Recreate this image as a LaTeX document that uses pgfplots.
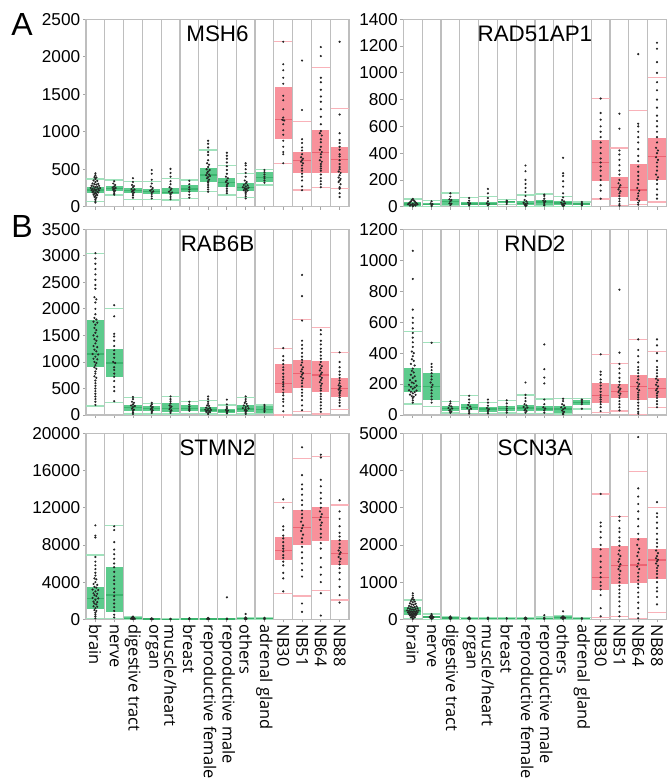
\documentclass[border=0pt]{standalone}
\usepackage{pgfplots}
\pgfplotsset{compat=1.18}
\usepackage{pgfplotstable}
\usepackage{fontspec}
\setmainfont{Liberation Sans}
\newfontfamily\labfont{Open Sans}

\definecolor{boxG}{RGB}{92,203,140}
\definecolor{boxR}{RGB}{248,145,155}
\definecolor{whiskG}{RGB}{160,226,188}
\definecolor{whiskR}{RGB}{249,178,185}
\definecolor{medG}{RGB}{60,180,110}
\definecolor{medR}{RGB}{235,100,115}
\definecolor{sep}{RGB}{190,190,190}

% box statistics: x, lower whisker, q1, median, q3, upper whisker
\pgfplotstableread{
x lw q1 med q3 uw
0.5 67 178 222 267 369
1.5 156 213 245 276 356
2.5 98 178 213 245 334
3.5 98 169 200 236 334
4.5 89 165 187 245 378
5.5 111 191 236 289 356
6.5 200 334 423 511 756
7.5 156 267 320 378 551
8.5 120 213 258 311 445
9.5 289 329 391 458 498
10.5 578 899 1166 1601 2202
11.5 222 454 614 734 1134
12.5 258 454 721 1023 1855
13.5 245 454 632 801 1312
}\tabMSH

\pgfplotstableread{
x lw q1 med q3 uw
0.5 0 8 20 32 58
1.5 2 10 18 25 45
2.5 8 15 38 58 103
3.5 2 10 20 32 70
4.5 2 10 20 38 75
5.5 15 28 38 45 52
6.5 2 10 25 40 88
7.5 5 15 35 50 95
8.5 2 12 28 40 75
9.5 2 10 20 30 35
10.5 58 195 333 495 808
11.5 8 70 145 220 438
12.5 15 45 125 320 720
13.5 35 203 378 515 965
}\tabRAD

\pgfplotstableread{
x lw q1 med q3 uw
0.5 170 911 1150 1791 3048
1.5 239 723 980 1238 2011
2.5 19 75 138 188 327
3.5 19 69 119 170 220
4.5 19 63 119 220 346
5.5 30 69 119 188 251
6.5 19 50 94 157 270
7.5 13 44 75 113 188
8.5 19 57 113 195 327
9.5 30 44 107 176 188
10.5 0 408 597 955 1257
11.5 63 503 785 1037 1803
12.5 19 440 754 1024 1653
13.5 107 346 503 691 1175
}\tabRAB

\pgfplotstableread{
x lw q1 med q3 uw
0.5 71 146 185 306 542
1.5 56 99 185 274 467
2.5 13 26 43 60 88
3.5 10 30 49 71 124
4.5 8 21 39 54 81
5.5 13 26 43 60 92
6.5 10 26 45 64 129
7.5 10 26 39 56 103
8.5 6 13 39 60 107
9.5 39 64 81 96 107
10.5 17 75 124 206 392
11.5 26 107 150 199 334
12.5 2 96 182 257 489
13.5 49 107 171 236 409
}\tabRND

\pgfplotstableread{
x lw q1 med q3 uw
0.5 107 1075 2258 3441 6917
1.5 107 824 2616 5663 10071
2.5 0 36 107 215 287
3.5 0 0 30 70 100
4.5 0 0 15 30 50
5.5 0 0 30 60 100
6.5 0 0 40 80 120
7.5 0 0 25 50 80
8.5 0 0 50 100 150
9.5 0 0 80 150 200
10.5 2760 6380 7383 8889 12544
11.5 2509 7992 9892 11755 17311
12.5 3082 8458 10967 12114 17526
13.5 2079 5842 7096 8530 12293
}\tabSTM

\pgfplotstableread{
x lw q1 med q3 uw
0.5 27 116 224 340 520
1.5 5 27 63 99 143
2.5 2 18 36 54 81
3.5 2 10 20 35 55
4.5 2 8 18 30 50
5.5 2 5 12 25 35
6.5 2 8 18 30 50
7.5 2 8 18 30 60
8.5 2 18 45 90 110
9.5 2 8 15 25 40
10.5 54 788 1129 1908 3369
11.5 72 950 1443 1980 2760
12.5 18 986 1460 2195 3969
13.5 179 1075 1595 1882 3002
}\tabSCN

\newcommand{\drawstats}[1]{%
  \addplot[draw=none, no markers, restrict x to domain=0:10,
    error bars/.cd, y dir=both, y explicit, error mark=none,
    error bar style={draw=boxG, line width=8.6pt, line cap=butt}]
    table[x=x, y expr={(\thisrow{q1}+\thisrow{q3})/2}, y error expr={(\thisrow{q3}-\thisrow{q1})/2}] {#1};
  \addplot[draw=none, no markers, restrict x to domain=10:14,
    error bars/.cd, y dir=both, y explicit, error mark=none,
    error bar style={draw=boxR, line width=8.6pt, line cap=butt}]
    table[x=x, y expr={(\thisrow{q1}+\thisrow{q3})/2}, y error expr={(\thisrow{q3}-\thisrow{q1})/2}] {#1};
  \addplot[only marks, mark=-, mark size=4.5pt, mark options={draw=whiskG, line width=0.6pt}, restrict x to domain=0:10] table[x=x, y=lw] {#1};
  \addplot[only marks, mark=-, mark size=4.5pt, mark options={draw=whiskG, line width=0.6pt}, restrict x to domain=0:10] table[x=x, y=uw] {#1};
  \addplot[only marks, mark=-, mark size=4.5pt, mark options={draw=whiskR, line width=0.6pt}, restrict x to domain=10:14] table[x=x, y=lw] {#1};
  \addplot[only marks, mark=-, mark size=4.5pt, mark options={draw=whiskR, line width=0.6pt}, restrict x to domain=10:14] table[x=x, y=uw] {#1};
  \addplot[only marks, mark=-, mark size=4.3pt, mark options={draw=medG, line width=0.6pt}, restrict x to domain=0:10] table[x=x, y=med] {#1};
  \addplot[only marks, mark=-, mark size=4.3pt, mark options={draw=medR, line width=0.6pt}, restrict x to domain=10:14] table[x=x, y=med] {#1};
}

\newcommand{\paneltitle}[1]{\node[anchor=base, inner sep=0pt, font=\fontsize{11.2}{13}\selectfont] at ([yshift=-11.2pt]axis description cs:0.5,1) {#1};}

\pgfplotsset{
  panel/.style={
    scale only axis, width=131.5pt, anchor=north west,
    xmin=0, xmax=14, ymin=0,
    axis line style={draw=sep, line width=0.6pt},
    xtick={0.5,1.5,...,13.5}, xticklabels={},
    minor xtick={1,2,...,13}, xminorgrids=true,
    minor grid style={draw=sep, line width=0.6pt},
    minor tick length=0pt,
    major tick length=1.5pt, tick align=outside,
    tick style={draw=gray!70, line width=0.4pt},
    xtick pos=bottom, ytick pos=left,
    scaled ticks=false,
    /pgf/number format/1000 sep={},
    /pgf/number format/assume math mode=true,
    yticklabel style={font=\fontsize{8.6}{10}\selectfont, inner sep=1.2pt},
  },
  bottomlabels/.style={
    xticklabels={brain, nerve, digestive tract, organ, muscle/heart, breast, reproductive female, reproductive male, others, adrenal gland, NB30, NB51, NB64, NB88},
    xticklabel style={rotate=-90, anchor=west, inner sep=1pt, font=\labfont\fontsize{8.2}{10}\selectfont},
  },
  dots/.style={only marks, mark=*, mark size=0.32pt, black!85},
}

\begin{document}
\begin{tikzpicture}
\useasboundingbox (0,0) rectangle (333pt,-391pt);

\node[anchor=base west, inner sep=0pt, font=\fontsize{16}{18}\selectfont] at (5.5pt,-17.5pt) {A};
\node[anchor=base west, inner sep=0pt, font=\fontsize{16}{18}\selectfont] at (5.5pt,-118.5pt) {B};

% ---------- MSH6 ----------
\begin{axis}[panel, at={(43pt,-9.65pt)}, height=93.7pt, ymax=2500, ytick={0,500,...,2500}]
\drawstats{\tabMSH}
\addplot[dots] coordinates {
(0.5,445)(0.5,420)(0.45,395)(0.55,390)(0.5,370)(0.4,350)(0.6,345)(0.5,330)(0.35,310)(0.65,305)(0.45,300)(0.55,295)(0.3,280)(0.7,278)(0.4,270)(0.6,265)(0.5,260)(0.25,250)(0.75,248)(0.35,240)(0.65,238)(0.45,232)(0.55,228)(0.3,220)(0.7,218)(0.5,215)(0.4,205)(0.6,200)(0.35,192)(0.65,190)(0.5,185)(0.45,175)(0.55,170)(0.4,160)(0.6,155)(0.5,145)(0.45,130)(0.55,120)(0.5,100)(0.5,75)(0.5,55)
(1.5,340)(1.45,310)(1.55,290)(1.5,270)(1.42,255)(1.58,250)(1.5,240)(1.45,225)(1.55,215)(1.5,200)(1.5,180)(1.5,160)
(2.5,380)(2.5,330)(2.45,290)(2.55,275)(2.5,260)(2.42,235)(2.58,230)(2.5,215)(2.45,200)(2.55,190)(2.5,170)(2.5,150)(2.5,120)
(3.5,490)(3.5,440)(3.5,360)(3.5,310)(3.45,270)(3.55,250)(3.5,230)(3.42,215)(3.58,205)(3.5,190)(3.5,170)(3.5,140)(3.5,110)
(4.5,505)(4.5,450)(4.5,400)(4.5,340)(4.5,300)(4.45,260)(4.55,240)(4.5,220)(4.42,200)(4.58,190)(4.5,175)(4.5,160)(4.5,130)(4.5,100)
(5.5,345)(5.5,300)(5.5,260)(5.5,230)(5.5,200)(5.5,160)(5.5,120)
(6.5,880)(6.5,840)(6.5,790)(6.5,730)(6.5,690)(6.5,620)(6.45,580)(6.55,560)(6.5,530)(6.42,500)(6.58,490)(6.5,470)(6.45,450)(6.55,430)(6.4,420)(6.6,410)(6.5,395)(6.45,380)(6.55,360)(6.5,340)(6.5,320)(6.5,290)(6.5,260)(6.5,230)(6.5,200)
(7.5,720)(7.5,680)(7.5,640)(7.5,590)(7.5,540)(7.5,490)(7.5,440)(7.45,400)(7.55,380)(7.5,350)(7.45,330)(7.55,310)(7.5,290)(7.5,270)(7.5,240)(7.5,210)(7.5,180)
(8.5,580)(8.5,550)(8.5,500)(8.5,450)(8.5,400)(8.45,350)(8.55,330)(8.5,310)(8.4,290)(8.6,285)(8.5,270)(8.35,260)(8.65,255)(8.45,245)(8.55,240)(8.5,230)(8.4,220)(8.6,215)(8.5,205)(8.5,190)(8.5,170)(8.5,140)(8.5,110)
(9.5,490)(9.5,460)(9.5,430)(9.5,400)(9.5,380)(9.5,350)(9.5,320)
(10.5,2200)(10.5,1900)(10.5,1820)(10.5,1720)(10.5,1640)(10.5,1480)(10.5,1420)(10.5,1300)(10.5,1190)(10.45,1160)(10.55,1150)(10.5,1100)(10.5,1020)(10.5,960)(10.5,880)(10.5,800)(10.5,730)(10.5,700)(10.5,580)
(11.5,1950)(11.5,1290)(11.5,900)(11.5,850)(11.5,790)(11.5,750)(11.5,700)(11.45,660)(11.55,640)(11.5,620)(11.45,600)(11.55,580)(11.5,550)(11.5,510)(11.5,480)(11.5,440)(11.5,400)(11.5,350)(11.5,270)(11.5,220)
(12.5,2130)(12.5,2010)(12.5,1720)(12.5,1660)(12.5,1560)(12.5,1470)(12.5,1400)(12.5,1300)(12.5,1200)(12.5,1100)(12.5,1010)(12.45,980)(12.55,950)(12.5,900)(12.5,860)(12.5,800)(12.45,760)(12.55,730)(12.5,700)(12.5,660)(12.45,620)(12.55,600)(12.5,570)(12.5,540)(12.5,510)(12.5,480)(12.5,430)(12.5,380)(12.5,340)(12.5,300)(12.5,260)
(13.5,2200)(13.5,1230)(13.5,980)(13.5,890)(13.5,850)(13.5,800)(13.5,760)(13.5,700)(13.5,670)(13.5,620)(13.5,570)(13.5,530)(13.5,500)(13.45,470)(13.55,450)(13.5,420)(13.45,390)(13.55,370)(13.5,350)(13.45,330)(13.55,300)(13.5,260)(13.5,240)(13.5,180)(13.5,130)
};
\paneltitle{MSH6}
\end{axis}

% ---------- RAD51AP1 ----------
\begin{axis}[panel, at={(201.7pt,-9.65pt)}, height=93.7pt, ymax=1400, ytick={0,200,...,1400}]
\drawstats{\tabRAD}
\addplot[dots] coordinates {
(0.5,58)(0.45,50)(0.55,48)(0.4,40)(0.6,40)(0.35,32)(0.65,32)(0.3,25)(0.7,25)(0.25,18)(0.75,18)(0.4,15)(0.6,15)(0.5,22)(0.5,10)(0.35,8)(0.65,8)(0.5,3)
(1.5,40)(1.45,25)(1.55,20)(1.5,12)(1.5,5)
(2.5,100)(2.5,75)(2.45,55)(2.55,50)(2.5,40)(2.45,25)(2.55,22)(2.5,12)
(3.5,65)(3.5,45)(3.45,30)(3.55,25)(3.5,15)(3.5,8)
(4.5,133)(4.5,100)(4.5,65)(4.5,40)(4.45,25)(4.55,20)(4.5,10)
(5.5,45)(5.5,38)(5.5,30)(5.5,20)
(6.5,308)(6.5,265)(6.5,200)(6.5,170)(6.5,140)(6.5,110)(6.5,80)(6.45,50)(6.55,40)(6.4,30)(6.6,25)(6.5,20)(6.45,15)(6.55,10)(6.5,5)
(7.5,90)(7.5,80)(7.5,60)(7.45,45)(7.55,40)(7.5,30)(7.5,20)(7.5,10)
(8.5,365)(8.5,250)(8.5,230)(8.5,190)(8.5,150)(8.5,100)(8.5,70)(8.45,50)(8.55,40)(8.4,30)(8.6,25)(8.5,20)(8.45,15)(8.55,10)(8.5,5)
(9.5,35)(9.5,25)(9.5,15)(9.5,8)
(10.5,808)(10.5,700)(10.5,650)(10.5,600)(10.5,560)(10.5,520)(10.5,480)(10.5,440)(10.5,400)(10.5,360)(10.5,330)(10.5,300)(10.5,270)(10.5,230)(10.5,200)(10.5,160)(10.5,120)(10.5,60)
(11.5,695)(11.5,583)(11.5,420)(11.5,390)(11.5,350)(11.5,310)(11.5,270)(11.5,240)(11.5,200)(11.45,175)(11.55,160)(11.5,145)(11.45,130)(11.55,115)(11.5,100)(11.5,80)(11.5,60)(11.5,40)(11.5,20)(11.5,8)
(12.5,1140)(12.5,620)(12.5,600)(12.5,560)(12.5,520)(12.5,480)(12.5,430)(12.5,380)(12.5,340)(12.5,300)(12.5,260)(12.5,230)(12.5,200)(12.5,170)(12.45,140)(12.55,120)(12.5,100)(12.5,80)(12.45,60)(12.55,45)(12.5,30)(12.5,15)
(13.5,1225)(13.5,1180)(13.5,1080)(13.5,1000)(13.5,930)(13.5,870)(13.5,800)(13.5,740)(13.5,680)(13.5,640)(13.5,600)(13.5,560)(13.5,520)(13.5,480)(13.45,440)(13.55,420)(13.5,400)(13.45,370)(13.55,350)(13.5,330)(13.5,300)(13.5,270)(13.45,240)(13.55,220)(13.5,200)(13.5,170)(13.5,130)(13.5,90)(13.5,60)
};
\paneltitle{RAD51AP1}
\end{axis}

% ---------- RAB6B ----------
\begin{axis}[panel, at={(43pt,-114.65pt)}, height=92.85pt, ymax=3500, ytick={0,500,...,3500}]
\drawstats{\tabRAB}
\addplot[dots] coordinates {
(0.5,3050)(0.5,2950)(0.5,2850)(0.5,2750)(0.5,2650)(0.5,2550)(0.5,2450)(0.5,2380)(0.45,2220)(0.55,2180)(0.5,2120)(0.5,2000)(0.5,1900)(0.45,1830)(0.55,1800)(0.4,1760)(0.6,1740)(0.5,1700)(0.45,1640)(0.55,1600)(0.5,1550)(0.4,1500)(0.6,1480)(0.45,1430)(0.55,1400)(0.5,1350)(0.4,1300)(0.6,1280)(0.45,1230)(0.55,1200)(0.35,1150)(0.65,1140)(0.5,1100)(0.4,1060)(0.6,1050)(0.45,1000)(0.55,980)(0.5,940)(0.45,900)(0.55,870)(0.5,820)(0.5,780)(0.45,730)(0.55,700)(0.5,650)(0.5,600)(0.5,550)(0.5,500)(0.5,450)(0.5,400)(0.5,350)(0.5,300)(0.5,250)(0.5,190)
(1.5,2070)(1.5,1860)(1.5,1530)(1.5,1480)(1.5,1400)(1.5,1300)(1.5,1220)(1.5,1150)(1.5,1080)(1.45,1000)(1.55,980)(1.5,900)(1.5,850)(1.5,780)(1.5,720)(1.5,640)(1.5,530)(1.5,450)(1.5,260)
(2.5,340)(2.5,300)(2.45,250)(2.55,230)(2.5,200)(2.4,180)(2.6,170)(2.5,150)(2.45,120)(2.55,100)(2.5,80)(2.5,50)(2.5,20)
(3.5,230)(3.5,200)(3.45,170)(3.55,150)(3.5,130)(3.45,110)(3.55,90)(3.5,70)(3.5,40)
(4.5,350)(4.5,300)(4.5,260)(4.5,220)(4.45,180)(4.55,160)(4.5,140)(4.45,110)(4.55,90)(4.5,70)(4.5,40)
(5.5,250)(5.5,200)(5.5,160)(5.5,130)(5.5,100)(5.5,80)
(6.5,350)(6.5,300)(6.5,250)(6.5,210)(6.45,180)(6.55,170)(6.4,140)(6.6,130)(6.5,115)(6.35,100)(6.65,95)(6.45,85)(6.55,75)(6.4,60)(6.6,55)(6.5,40)(6.5,20)
(7.5,290)(7.5,200)(7.5,150)(7.5,120)(7.45,95)(7.55,85)(7.5,70)(7.5,50)(7.5,30)
(8.5,350)(8.5,300)(8.5,260)(8.45,230)(8.55,210)(8.4,180)(8.6,170)(8.5,150)(8.35,130)(8.65,125)(8.5,110)(8.45,90)(8.55,80)(8.5,60)(8.5,40)(8.5,20)
(9.5,190)(9.5,170)(9.5,130)(9.5,90)(9.5,60)
(10.5,1260)(10.5,1110)(10.5,1030)(10.5,960)(10.5,900)(10.5,850)(10.5,780)(10.5,720)(10.5,670)(10.5,620)(10.5,580)(10.5,540)(10.5,480)(10.5,420)(10.5,370)(10.5,300)(10.5,250)(10.5,170)(10.5,70)
(11.5,2640)(11.5,2240)(11.5,1780)(11.5,1400)(11.5,1320)(11.5,1250)(11.5,1170)(11.5,1100)(11.5,1040)(11.5,990)(11.45,940)(11.55,900)(11.5,860)(11.45,820)(11.55,790)(11.5,760)(11.45,720)(11.55,690)(11.5,650)(11.5,600)(11.5,540)(11.5,480)(11.5,420)(11.5,360)(11.5,280)(11.5,180)(11.5,90)
(12.5,1600)(12.5,1520)(12.5,1400)(12.5,1330)(12.5,1250)(12.5,1190)(12.5,1120)(12.5,1060)(12.5,1000)(12.45,950)(12.55,920)(12.5,880)(12.45,840)(12.55,800)(12.5,770)(12.45,730)(12.55,700)(12.5,660)(12.45,620)(12.55,590)(12.5,550)(12.5,500)(12.5,460)(12.5,400)(12.5,350)(12.5,300)(12.5,240)(12.5,180)(12.5,120)(12.5,60)
(13.5,1180)(13.5,1000)(13.5,900)(13.5,820)(13.5,760)(13.5,700)(13.5,650)(13.5,600)(13.45,560)(13.55,540)(13.5,510)(13.45,480)(13.55,460)(13.5,430)(13.5,400)(13.5,370)(13.5,330)(13.5,280)(13.5,230)(13.5,170)
};
\paneltitle{RAB6B}
\end{axis}

% ---------- RND2 ----------
\begin{axis}[panel, at={(201.7pt,-114.65pt)}, height=92.85pt, ymax=1200, ytick={0,200,...,1200}]
\drawstats{\tabRND}
\addplot[dots] coordinates {
(0.5,1061)(0.5,879)(0.5,681)(0.5,628)(0.5,596)(0.5,560)(0.5,530)(0.5,500)(0.5,470)(0.5,440)(0.45,410)(0.55,400)(0.5,380)(0.45,360)(0.55,350)(0.4,330)(0.6,320)(0.5,300)(0.45,285)(0.55,275)(0.4,260)(0.6,250)(0.5,240)(0.35,225)(0.65,220)(0.45,210)(0.55,205)(0.3,195)(0.7,190)(0.4,182)(0.6,178)(0.5,170)(0.3,160)(0.7,158)(0.4,150)(0.6,148)(0.5,140)(0.35,132)(0.65,130)(0.45,122)(0.55,118)(0.5,110)(0.5,95)(0.5,80)
(1.5,467)(1.5,330)(1.5,310)(1.5,290)(1.5,270)(1.5,250)(1.5,230)(1.45,210)(1.55,195)(1.5,180)(1.5,160)(1.5,140)(1.5,120)(1.5,100)(1.5,80)
(2.5,88)(2.5,75)(2.45,62)(2.55,55)(2.4,45)(2.6,42)(2.5,35)(2.45,28)(2.55,22)(2.5,15)
(3.5,124)(3.5,100)(3.5,80)(3.45,65)(3.55,55)(3.4,45)(3.6,40)(3.5,32)(3.5,20)(3.5,10)
(4.5,100)(4.5,80)(4.5,60)(4.45,45)(4.55,38)(4.5,30)(4.5,20)(4.5,10)
(5.5,95)(5.5,75)(5.5,55)(5.5,40)(5.5,28)(5.5,15)
(6.5,210)(6.5,130)(6.5,110)(6.5,90)(6.45,70)(6.55,62)(6.4,52)(6.6,48)(6.5,40)(6.45,30)(6.55,25)(6.5,15)
(7.5,456)(7.5,296)(7.5,242)(7.5,204)(7.5,100)(7.5,70)(7.45,50)(7.55,42)(7.5,30)(7.5,15)
(8.5,105)(8.5,90)(8.45,70)(8.55,62)(8.4,50)(8.6,45)(8.5,38)(8.45,28)(8.55,20)(8.5,12)(8.5,5)
(9.5,100)(9.5,90)(9.5,80)(9.5,70)(9.5,40)
(10.5,392)(10.5,280)(10.5,260)(10.5,230)(10.5,210)(10.5,190)(10.5,170)(10.5,150)(10.5,130)(10.5,115)(10.5,100)(10.5,85)(10.5,70)(10.5,50)(10.5,25)
(11.5,810)(11.5,403)(11.5,330)(11.5,300)(11.5,270)(11.5,240)(11.5,215)(11.5,195)(11.45,180)(11.55,170)(11.5,160)(11.45,148)(11.55,138)(11.5,125)(11.5,110)(11.5,90)(11.5,70)(11.5,50)(11.5,30)
(12.5,489)(12.5,420)(12.5,380)(12.5,340)(12.5,310)(12.5,290)(12.5,270)(12.5,250)(12.5,230)(12.45,210)(12.55,200)(12.5,185)(12.45,170)(12.55,160)(12.5,145)(12.5,130)(12.5,115)(12.5,100)(12.5,80)(12.5,60)(12.5,40)(12.5,20)(12.5,8)
(13.5,489)(13.5,450)(13.5,400)(13.5,350)(13.5,310)(13.5,290)(13.5,270)(13.5,250)(13.45,235)(13.55,225)(13.5,210)(13.45,195)(13.55,185)(13.5,170)(13.45,160)(13.55,150)(13.5,140)(13.5,125)(13.5,110)(13.5,90)(13.5,70)(13.5,50)
};
\paneltitle{RND2}
\end{axis}

% ---------- STMN2 ----------
\begin{axis}[panel, bottomlabels, at={(43pt,-216.65pt)}, height=93pt, ymax=20000, ytick={0,4000,...,20000}]
\drawstats{\tabSTM}
\addplot[dots] coordinates {
(0.5,10100)(0.5,9000)(0.5,8800)(0.5,6700)(0.5,6200)(0.5,5800)(0.5,5400)(0.5,5000)(0.5,4700)(0.45,4400)(0.55,4300)(0.5,4000)(0.4,3800)(0.6,3700)(0.45,3500)(0.55,3400)(0.35,3200)(0.65,3150)(0.5,3000)(0.4,2800)(0.6,2750)(0.45,2600)(0.55,2500)(0.35,2300)(0.65,2250)(0.5,2100)(0.4,1900)(0.6,1850)(0.45,1700)(0.55,1600)(0.4,1400)(0.6,1350)(0.5,1200)(0.45,1000)(0.55,900)(0.5,700)(0.5,500)(0.5,300)(0.5,100)
(1.5,10000)(1.5,9600)(1.5,8300)(1.5,7500)(1.5,7000)(1.5,6500)(1.5,6000)(1.5,5600)(1.5,5100)(1.5,4600)(1.5,4200)(1.5,3800)(1.5,3300)(1.5,2900)(1.5,2500)(1.5,2100)(1.5,1700)(1.5,1300)(1.5,900)(1.5,500)(1.5,200)
(2.5,300)(2.45,200)(2.55,150)(2.5,100)(2.4,60)(2.6,50)(2.5,20)
(3.5,100)(3.5,50)(3.45,30)(3.55,20)(3.5,10)
(4.5,60)(4.5,30)(4.5,10)
(5.5,120)(5.5,60)(5.5,20)
(6.5,150)(6.5,90)(6.45,50)(6.55,40)(6.5,15)
(7.5,2365)(7.5,80)(7.5,40)(7.5,15)
(8.5,573)(8.5,200)(8.5,120)(8.45,70)(8.55,50)(8.5,20)
(9.5,150)(9.5,100)(9.5,60)(9.5,20)
(10.5,12900)(10.5,12000)(10.5,10000)(10.5,9600)(10.5,9000)(10.5,8700)(10.5,8300)(10.5,7900)(10.5,7600)(10.5,7300)(10.5,6900)(10.5,6600)(10.5,6200)(10.5,5800)(10.5,5000)(10.5,4400)(10.5,3000)
(11.5,18500)(11.5,15500)(11.5,14500)(11.5,14000)(11.5,13400)(11.5,12800)(11.5,12300)(11.5,11700)(11.5,11300)(11.5,10900)(11.45,10500)(11.55,10100)(11.5,9800)(11.45,9500)(11.55,9100)(11.5,8700)(11.5,8300)(11.5,7800)(11.5,7200)(11.5,6600)(11.5,6000)(11.5,5300)(11.5,4600)(11.5,1700)(11.5,800)
(12.5,17700)(12.5,17400)(12.5,15000)(12.5,14300)(12.5,13600)(12.5,13000)(12.5,12500)(12.5,12000)(12.45,11600)(12.55,11300)(12.5,11000)(12.45,10700)(12.55,10400)(12.5,10100)(12.5,9700)(12.5,9200)(12.5,8800)(12.5,8200)(12.5,7600)(12.5,6600)(12.5,5600)(12.5,4800)(12.5,4000)(12.5,2800)(12.5,400)
(13.5,12800)(13.5,11600)(13.5,10800)(13.5,10000)(13.5,9300)(13.5,8900)(13.5,8500)(13.5,8100)(13.5,7700)(13.45,7400)(13.55,7200)(13.5,7000)(13.45,6700)(13.55,6500)(13.5,6200)(13.5,5900)(13.5,5500)(13.5,5000)(13.5,4300)(13.5,3500)(13.5,2600)(13.5,1800)
};
\paneltitle{STMN2}
\end{axis}

% ---------- SCN3A ----------
\begin{axis}[panel, bottomlabels, at={(201.7pt,-216.65pt)}, height=93pt, ymax=5000, ytick={0,1000,...,5000}]
\drawstats{\tabSCN}
\addplot[dots] coordinates {
(0.5,700)(0.5,640)(0.5,580)(0.45,540)(0.55,530)(0.4,490)(0.6,480)(0.5,460)(0.35,430)(0.65,420)(0.45,400)(0.55,390)(0.3,360)(0.7,350)(0.4,340)(0.6,330)(0.5,320)(0.25,300)(0.75,295)(0.35,280)(0.65,275)(0.45,265)(0.55,260)(0.2,240)(0.8,238)(0.3,225)(0.7,222)(0.4,215)(0.6,210)(0.5,200)(0.25,185)(0.75,182)(0.35,175)(0.65,172)(0.45,165)(0.55,160)(0.3,145)(0.7,142)(0.4,135)(0.6,130)(0.5,120)(0.35,105)(0.65,100)(0.45,90)(0.55,85)(0.5,70)(0.4,50)(0.6,50)(0.5,30)(0.5,10)
(1.5,140)(1.5,110)(1.45,85)(1.55,75)(1.4,60)(1.6,55)(1.5,45)(1.45,35)(1.55,28)(1.5,15)
(2.5,80)(2.5,55)(2.45,40)(2.55,35)(2.5,20)(2.5,8)
(3.5,50)(3.5,35)(3.45,25)(3.55,20)(3.5,10)
(4.5,45)(4.5,30)(4.5,20)(4.5,10)
(5.5,30)(5.5,15)
(6.5,45)(6.5,30)(6.45,22)(6.55,18)(6.5,10)
(7.5,110)(7.5,40)(7.5,25)(7.5,12)
(8.5,215)(8.5,80)(8.45,60)(8.55,55)(8.4,40)(8.6,38)(8.5,25)(8.5,10)
(9.5,30)(9.5,15)
(10.5,3370)(10.5,2600)(10.5,2500)(10.5,2350)(10.5,2200)(10.5,2000)(10.5,1880)(10.5,1700)(10.5,1550)(10.5,1400)(10.5,1250)(10.5,1130)(10.5,1000)(10.5,900)(10.5,800)(10.5,650)(10.5,300)(10.5,80)
(11.5,2760)(11.5,2650)(11.5,2450)(11.5,2350)(11.5,2200)(11.5,2100)(11.5,1980)(11.5,1850)(11.45,1750)(11.55,1700)(11.5,1620)(11.45,1550)(11.55,1480)(11.5,1420)(11.45,1350)(11.55,1300)(11.5,1200)(11.5,1100)(11.5,1000)(11.5,900)(11.5,800)(11.5,700)(11.5,600)(11.5,480)(11.5,350)(11.5,200)(11.5,80)
(12.5,4900)(12.5,3520)(12.5,3300)(12.5,3100)(12.5,2900)(12.5,2700)(12.5,2500)(12.5,2300)(12.5,2150)(12.45,2000)(12.55,1900)(12.5,1800)(12.45,1700)(12.55,1600)(12.5,1500)(12.45,1420)(12.55,1350)(12.5,1250)(12.5,1150)(12.5,1050)(12.5,950)(12.5,850)(12.5,720)(12.5,600)(12.5,450)(12.5,300)(12.5,150)(12.5,30)
(13.5,3150)(13.5,2850)(13.5,2750)(13.5,2600)(13.5,2450)(13.5,2300)(13.5,2150)(13.5,2050)(13.5,1950)(13.45,1850)(13.55,1780)(13.5,1700)(13.45,1640)(13.55,1600)(13.5,1560)(13.45,1500)(13.55,1440)(13.5,1380)(13.5,1300)(13.5,1220)(13.5,1120)(13.5,1000)(13.5,850)(13.5,750)(13.5,600)(13.5,400)
};
\paneltitle{SCN3A}
\end{axis}
\end{tikzpicture}
\end{document}
